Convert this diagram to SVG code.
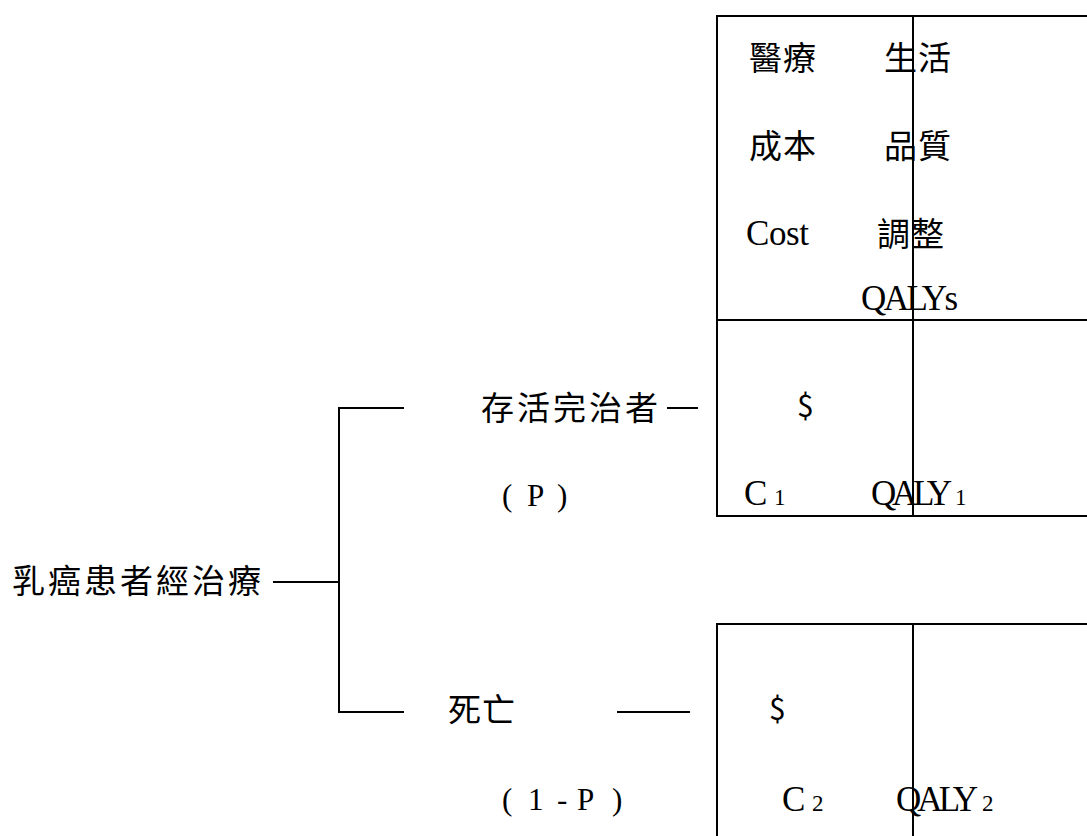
<svg xmlns="http://www.w3.org/2000/svg" width="1087" height="836" viewBox="0 0 1087 836">
<style>
.cjk{font-family:"Noto Sans CJK TC","Noto Sans CJK SC",sans-serif;font-size:33px;fill:#000;letter-spacing:1px}
.lat{font-family:"Liberation Serif",serif;font-size:35px;fill:#000}
.par{font-family:"Liberation Serif",serif;font-size:31px;fill:#000}
.sub{font-family:"Liberation Serif",serif;font-size:23px;fill:#000}
.ln{stroke:#000;stroke-width:2;fill:none}
</style>
<rect width="1087" height="836" fill="#fff"/>
<g id="connectors">
<line class="ln" x1="273" y1="582" x2="339" y2="582"/>
<polyline class="ln" points="404,408 339,408 339,712 404,712"/>
<line class="ln" x1="667" y1="408" x2="698" y2="408"/>
<line class="ln" x1="617" y1="712" x2="690" y2="712"/>
</g>
<g id="root">
<text class="cjk" x="12" y="593" style="letter-spacing:3px">乳癌患者經治療</text>
</g>
<g id="survive">
<text class="cjk" x="481" y="420" style="letter-spacing:3px">存活完治者</text>
<text class="par" x="502 527 557" y="506">(P)</text>
</g>
<g id="death">
<text class="cjk" x="448" y="722">死亡</text>
<text class="par" x="502 528 557 577 612" y="810">(1-P)</text>
</g>
<g id="outcome-table-1">
<path class="ln" d="M1090,16 H717 V516 H1090 M717,320 H1090 M913,16 V516"/>
<text class="cjk" x="749" y="70">醫療</text>
<text class="cjk" x="884" y="70">生活</text>
<text class="cjk" x="749" y="158">成本</text>
<text class="cjk" x="884" y="158">品質</text>
<text class="lat" x="746" y="245" textLength="63">Cost</text>
<text class="cjk" x="877" y="246">調整</text>
<text class="lat" x="861" y="310" textLength="97">QALYs</text>
<text class="cjk" x="797" y="417" style="font-size:30px">$</text>
<text class="lat" x="744" y="505">C</text>
<text class="sub" x="774" y="505">1</text>
<text class="lat" x="871" y="505" textLength="81">QALY</text>
<text class="sub" x="955" y="505">1</text>
</g>
<g id="outcome-table-2">
<path class="ln" d="M717,840 V624 H1090 M913,624 V840"/>
<text class="cjk" x="769" y="720" style="font-size:30px">$</text>
<text class="lat" x="782" y="811">C</text>
<text class="sub" x="812" y="811">2</text>
<text class="lat" x="896" y="811" textLength="82">QALY</text>
<text class="sub" x="982" y="811">2</text>
</g>
</svg>
